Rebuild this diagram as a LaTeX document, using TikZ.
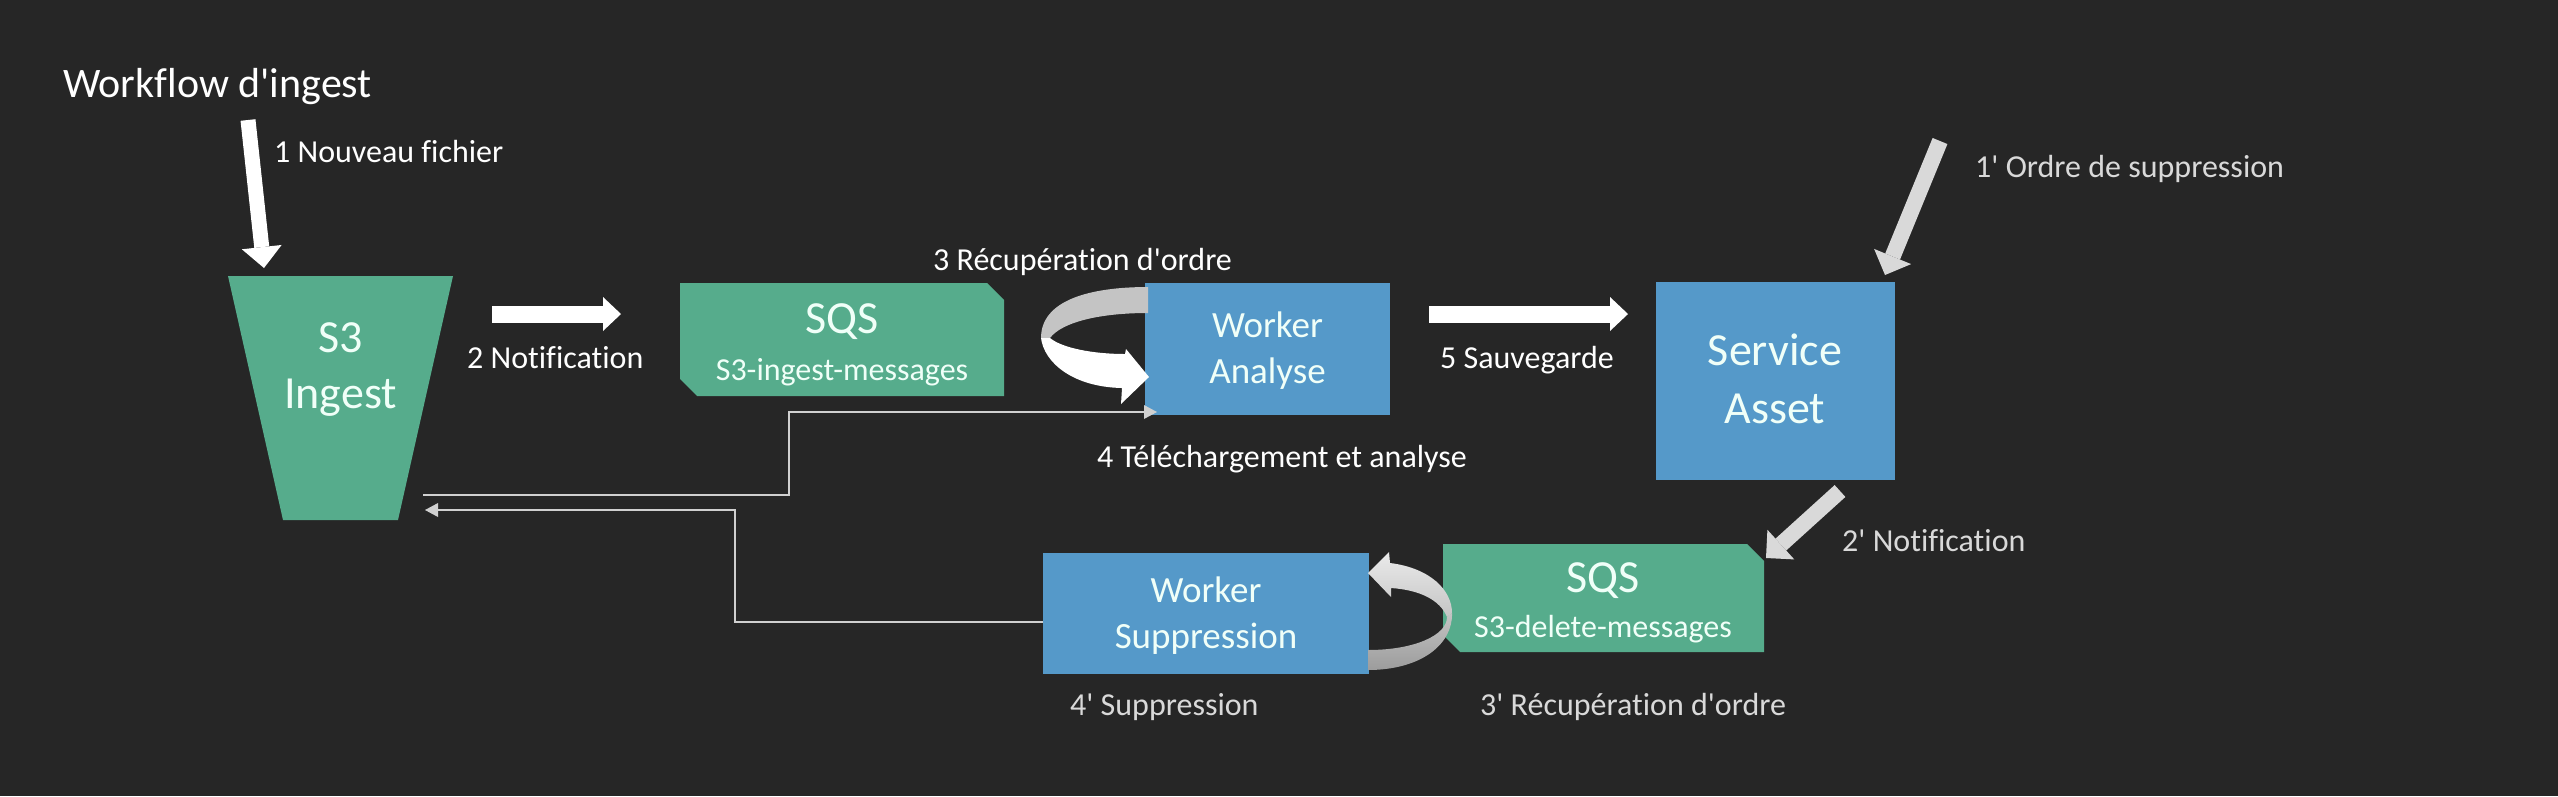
\documentclass[tikz,border=0pt]{standalone}
\usepackage{fontspec}
\setmainfont{Carlito}[Ligatures={TeXOff,CommonOff}]
\usetikzlibrary{arrows.meta,calc}
\definecolor{bg}{HTML}{262626}
\definecolor{sgreen}{HTML}{56AC8C}
\definecolor{sblue}{HTML}{5599C9}
\definecolor{lgray}{HTML}{D9D9D9}
\definecolor{cgray}{HTML}{D0D0D0}
\definecolor{mgray}{HTML}{C4C4C4}
\definecolor{dgray}{HTML}{9C9C9C}
\definecolor{boxtxt}{HTML}{F0FFF8}
\begin{document}
\begin{tikzpicture}[x=1pt,y=-1pt,
  lbl/.style={font=\fontsize{32}{38}\selectfont, text=white, inner sep=0pt, anchor=base west},
  plbl/.style={lbl, text=lgray},
  titletxt/.style={font=\fontsize{42}{50}\selectfont, text=white, inner sep=0pt, anchor=base west},
  bigtxt/.style={font=\fontsize{46}{56}\selectfont, text=boxtxt, inner sep=0pt, anchor=base},
  midtxt/.style={font=\fontsize{37}{44}\selectfont, text=boxtxt, inner sep=0pt, anchor=base},
  subtxt/.style={font=\fontsize{32}{38}\selectfont, text=boxtxt, inner sep=0pt, anchor=base},
  bluebox/.style={rectangle, fill=sblue, inner sep=0pt},
  blockA/.style={draw=white, line width=15pt, -{Triangle[length=21pt,width=40pt,line width=0pt]}},
  blockB/.style={draw=white, line width=17pt, -{Triangle[length=18pt,width=34pt,line width=0pt]}},
  blockG/.style={draw=lgray, line width=16pt, -{Triangle[length=20pt,width=40pt,line width=0pt]}},
  conn/.style={draw=cgray, line width=2.5pt, -{Triangle[length=13pt,width=14pt,line width=0pt]}}
]
\fill[bg] (0,0) rectangle (2558,796);
\useasboundingbox (0,0) rectangle (2558,796);

% title
\node[titletxt] (title) at (63,97) {Workflow d'ingest};

% S3 Ingest trapezoid
\fill[sgreen] (228,276) -- (453,276) -- (398,520) -- (283,520) -- cycle;
\node[bigtxt] (s3a) at (340.5,352) {S3};
\node[bigtxt] (s3b) at (340.5,408) {Ingest};

% SQS ingest
\fill[sgreen] (680,283) -- (987,283) -- (1004,300) -- (1004,396) -- (697,396) -- (680,379) -- cycle;
\node[bigtxt] (q1a) at (842,333) {SQS};
\node[subtxt] (q1b) at (842,380) {S3-ingest-messages};

% Worker Analyse
\node[bluebox, minimum width=245pt, minimum height=132pt] (wa) at (1267.5,349) {};
\node[midtxt] (waa) at (1267.5,337) {Worker};
\node[midtxt] (wab) at (1267.5,383) {Analyse};

% Service Asset
\node[bluebox, minimum width=239pt, minimum height=198pt] (sa) at (1775.5,381) {};
\node[bigtxt] (saa) at (1775,365) {Service};
\node[bigtxt] (sab) at (1775,423) {Asset};

% SQS delete
\fill[sgreen] (1443,544) -- (1747,544) -- (1764,561) -- (1764,652) -- (1460,652) -- (1443,635) -- cycle;
\node[bigtxt] (q2a) at (1603,592) {SQS};
\node[subtxt] (q2b) at (1603,637) {S3-delete-messages};

% Worker Suppression
\node[bluebox, minimum width=326pt, minimum height=121pt] (ws) at (1206,613.5) {};
\node[midtxt] (wsa) at (1206,602) {Worker};
\node[midtxt] (wsb) at (1206,648) {Suppression};

% coordinates for arrows
\coordinate (a1s) at (248,120);
\coordinate (a1e) at (264,268);
\coordinate (a2s) at (492,314);
\coordinate (a2e) at (621,314);
\coordinate (a5s) at (1429,314);
\coordinate (a5e) at (1628,314);
\coordinate (b1s) at (1940,141);
\coordinate (b1e) at (1885,275);
\coordinate (b2s) at (1840,491);
\coordinate (b2e) at (1766,558);
\coordinate (s3out) at (423,495);
\coordinate (s3in) at (425,510);
\coordinate (wain) at (1157,412);
\coordinate (wsout) at (1043,622);

% block arrows
\draw[blockA] (a1s) -- (a1e);
\draw[blockB] (a2s) -- (a2e);
\draw[blockB] (a5s) -- (a5e);
\draw[blockG] (b1s) -- (b1e);
\draw[blockG] (b2s) -- (b2e);

% curved arrow 3 (SQS -> Worker Analyse)
\fill[mgray] (1148,287) .. controls (1090,287) and (1041,300) .. (1041,338)
  -- (1050,338) .. controls (1062,322) and (1100,313) .. (1148,313) -- cycle;
\fill[white] (1041,338) .. controls (1044,362) and (1072,387) .. (1122,388)
  -- (1121,404) -- (1149,377) -- (1126,349) -- (1125,354)
  .. controls (1093,354) and (1062,348) .. (1050,338) -- cycle;

% curved arrow 3' (SQS delete -> Worker Suppression)
\shade[top color=mgray, bottom color=dgray] (1452,613) .. controls (1453,645) and (1420,670) .. (1368,670)
  -- (1368,650) .. controls (1415,650) and (1447,635) .. (1447,617) -- cycle;
\shade[top color=white!92!black, bottom color=mgray] (1368,573) -- (1389,552) -- (1390,563)
  .. controls (1430,568) and (1452,590) .. (1452,613) -- (1447,617)
  .. controls (1440,600) and (1420,590) .. (1391,588) -- (1391,597) -- cycle;

% thin connectors
\draw[conn] (s3out) -- (789,495) -- (789,412) -- (wain);
\draw[conn] (wsout) -- (735,622) -- (735,510) -- (s3in);

% labels
\node[lbl] (l1) at (274,162) {1 Nouveau fichier};
\node[lbl] (l2) at (467,368) {2 Notification};
\node[lbl] (l3) at (933,270) {3 Récupération d'ordre};
\node[lbl] (l4) at (1097,467) {4 Téléchargement et analyse};
\node[lbl] (l5) at (1440,368) {5 Sauvegarde};
\node[plbl] (p1) at (1975,177) {1' Ordre de suppression};
\node[plbl] (p2) at (1842,551) {2' Notification};
\node[plbl] (p3) at (1480,715) {3' Récupération d'ordre};
\node[plbl] (p4) at (1070,715) {4' Suppression};
\end{tikzpicture}
\end{document}
